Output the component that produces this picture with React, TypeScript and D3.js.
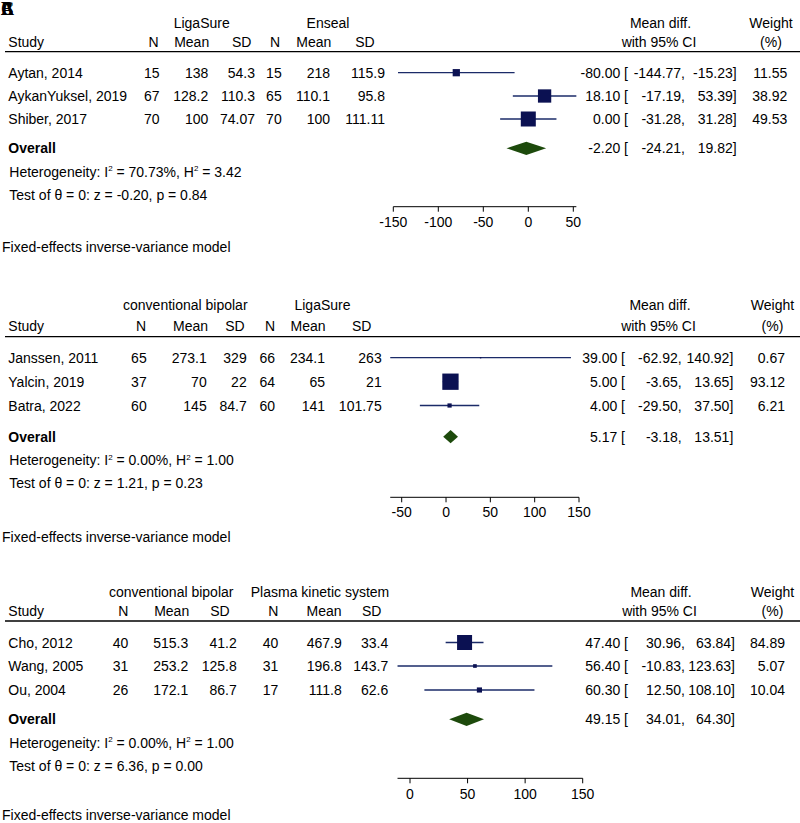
import React from "react";
import * as d3 from "d3";

// ---------- DATA ----------
const p1Studies = ["Aytan, 2014", "AykanYuksel, 2019", "Shiber, 2017"];
const p1N1 = [15, 67, 70];
const p1Mean1 = [138, 128.2, 100];
const p1SD1 = [54.3, 110.3, 74.07];
const p1N2 = [15, 65, 70];
const p1Mean2 = [218, 110.1, 100];
const p1SD2 = [115.9, 95.8, 111.11];
const p1Est = [-80.0, 18.1, 0.0];
const p1Lo = [-144.77, -17.19, -31.28];
const p1Hi = [-15.23, 53.39, 31.28];
const p1Weight = [11.55, 38.92, 49.53];
const p1Overall = [-2.2, -24.21, 19.82];
const p1Groups = ["LigaSure", "Enseal"];
const p1Het = { i2: 70.73, h2: 3.42, z: -0.2, p: 0.84 };
const p1Ticks = [-150, -100, -50, 0, 50];

const p2Studies = ["Janssen, 2011", "Yalcin, 2019", "Batra, 2022"];
const p2N1 = [65, 37, 60];
const p2Mean1 = [273.1, 70, 145];
const p2SD1 = [329, 22, 84.7];
const p2N2 = [66, 64, 60];
const p2Mean2 = [234.1, 65, 141];
const p2SD2 = [263, 21, 101.75];
const p2Est = [39.0, 5.0, 4.0];
const p2Lo = [-62.92, -3.65, -29.5];
const p2Hi = [140.92, 13.65, 37.5];
const p2Weight = [0.67, 93.12, 6.21];
const p2Overall = [5.17, -3.18, 13.51];
const p2Groups = ["conventional bipolar", "LigaSure"];
const p2Het = { i2: 0.0, h2: 1.0, z: 1.21, p: 0.23 };
const p2Ticks = [-50, 0, 50, 100, 150];

const p3Studies = ["Cho, 2012", "Wang, 2005", "Ou, 2004"];
const p3N1 = [40, 31, 26];
const p3Mean1 = [515.3, 253.2, 172.1];
const p3SD1 = [41.2, 125.8, 86.7];
const p3N2 = [40, 31, 17];
const p3Mean2 = [467.9, 196.8, 111.8];
const p3SD2 = [33.4, 143.7, 62.6];
const p3Est = [47.4, 56.4, 60.3];
const p3Lo = [30.96, -10.83, 12.5];
const p3Hi = [63.84, 123.63, 108.1];
const p3Weight = [84.89, 5.07, 10.04];
const p3Overall = [49.15, 34.01, 64.3];
const p3Groups = ["conventional bipolar", "Plasma kinetic system"];
const p3Het = { i2: 0.0, h2: 1.0, z: 6.36, p: 0.0 };
const p3Ticks = [0, 50, 100, 150];

const colHeaders = ["N", "Mean", "SD", "N", "Mean", "SD"];
const panelLetters = ["A", "B", "C"];

// ---------- LAYOUT ----------
const FONT = "'Liberation Sans', Arial, sans-serif";
const FS = 14;
const SQ_COLOR = "#0b1152";
const CI_COLOR = "#1b2b68";
const DIA_COLOR = "#1d4a0c";

const layouts = [
  {
    lineY: 51.7, groupY: 22.7, headY: 41.7, rows: [72.7, 96, 119], overallY: 148.3,
    hetY: 171.7, testY: 195, axisY: 206.7, tickY: 222, fixedY: 246.7,
    colRight: [159.5, 208.3, 255, 281.7, 330, 385],
    colHead: [153.5, 191.7, 241.7, 275, 313.8, 365],
    groupX: [201.7, 328],
    estRight: 628, loRight: 685, hiRight: 736.7, wRight: 787.3, mdX: 660.5, wX: 771,
    xDomain: [-150, 50], xRange: [393.3, 573.3], maxSide: 15,
  },
  {
    lineY: 336.7, groupY: 305, headY: 326, rows: [357.7, 381.7, 405.5], overallY: 436.7,
    hetY: 460, testY: 483.3, axisY: 497.3, tickY: 512, fixedY: 536.7,
    colRight: [146.7, 206.7, 246.7, 275, 325, 381.7],
    colHead: [141, 190.5, 235, 270, 308, 361.7],
    groupX: [185.3, 322.5],
    estRight: 625, loRight: 681.7, hiRight: 733.3, wRight: 785, mdX: 660, wX: 772.5,
    xDomain: [-50, 150], xRange: [401.7, 579], maxSide: 16.3,
  },
  {
    lineY: 621, groupY: 591.7, headY: 611, rows: [642.5, 666, 690], overallY: 719.3,
    hetY: 742.7, testY: 766, axisY: 778.3, tickY: 794, fixedY: 814.5,
    colRight: [128.3, 188.3, 236.7, 278.3, 341.7, 388.3],
    colHead: [123.3, 171.7, 220, 273.3, 324, 371.7],
    groupX: [171.2, 320],
    estRight: 628, loRight: 685, hiRight: 735, wRight: 785, mdX: 661, wX: 772.5,
    xDomain: [0, 150], xRange: [410, 582.7], maxSide: 15,
  },
];

const panels = [
  { studies: p1Studies, cols: [p1N1, p1Mean1, p1SD1, p1N2, p1Mean2, p1SD2], est: p1Est, lo: p1Lo, hi: p1Hi, w: p1Weight, overall: p1Overall, groups: p1Groups, het: p1Het, ticks: p1Ticks },
  { studies: p2Studies, cols: [p2N1, p2Mean1, p2SD1, p2N2, p2Mean2, p2SD2], est: p2Est, lo: p2Lo, hi: p2Hi, w: p2Weight, overall: p2Overall, groups: p2Groups, het: p2Het, ticks: p2Ticks },
  { studies: p3Studies, cols: [p3N1, p3Mean1, p3SD1, p3N2, p3Mean2, p3SD2], est: p3Est, lo: p3Lo, hi: p3Hi, w: p3Weight, overall: p3Overall, groups: p3Groups, het: p3Het, ticks: p3Ticks },
];

const f2 = (v: number) => v.toFixed(2);
const BL = 5; // baseline offset from visual center

function Panel({ d, L }: { d: any; L: any }) {
  const x = d3.scaleLinear().domain(L.xDomain).range(L.xRange);
  const size = d3.scaleSqrt().domain([0, d3.max(d.w as number[]) as number]).range([0, L.maxSide]);
  const axMin = Math.min(L.xDomain[0], d3.min(d.lo as number[]) as number);
  const axMax = Math.max(L.xDomain[1], d3.max(d.hi as number[]) as number);
  const [oe, ol, oh] = d.overall;
  const dh = 6.6;
  const ciText = (e: number, lo: number, hi: number, y: number, k: string) => (
    <g key={k}>
      <text x={L.estRight} y={y + BL} textAnchor="end">{f2(e) + " ["}</text>
      <text x={L.loRight} y={y + BL} textAnchor="end">{f2(lo) + ","}</text>
      <text x={L.hiRight} y={y + BL} textAnchor="end">{f2(hi) + "]"}</text>
    </g>
  );
  return (
    <g>
      {d.groups.map((g: string, i: number) => (
        <text key={"g" + i} x={L.groupX[i]} y={L.groupY + BL} textAnchor="middle">{g}</text>
      ))}
      <text x={L.mdX} y={L.groupY + BL} textAnchor="middle">Mean diff.</text>
      <text x={L.wX} y={L.groupY + BL} textAnchor="middle">Weight</text>
      <text x={8.3} y={L.headY + BL}>Study</text>
      {colHeaders.map((h, i) => (
        <text key={"h" + i} x={L.colHead[i]} y={L.headY + BL} textAnchor="middle">{h}</text>
      ))}
      <text x={L.mdX - 1.5} y={L.headY + BL} textAnchor="middle">with 95% CI</text>
      <text x={L.wX} y={L.headY + BL} textAnchor="middle">(%)</text>
      <line x1={5} x2={800} y1={L.lineY} y2={L.lineY} stroke="#000" strokeWidth={1.3} />
      {d.studies.map((s: string, i: number) => {
        const y = L.rows[i];
        const sz = size(d.w[i]);
        return (
          <g key={"r" + i}>
            <text x={8.3} y={y + BL}>{s}</text>
            {d.cols.map((c: number[], j: number) => (
              <text key={"c" + j} x={L.colRight[j]} y={y + BL} textAnchor="end">{String(c[i])}</text>
            ))}
            <line x1={x(d.lo[i])} x2={x(d.hi[i])} y1={y} y2={y} stroke={CI_COLOR} strokeWidth={1.3} />
            <rect x={x(d.est[i]) - sz / 2} y={y - sz / 2} width={sz} height={sz} fill={SQ_COLOR} />
            {ciText(d.est[i], d.lo[i], d.hi[i], y, "ci" + i)}
            <text x={L.wRight} y={y + BL} textAnchor="end">{f2(d.w[i])}</text>
          </g>
        );
      })}
      <text x={8.3} y={L.overallY + BL} fontWeight="bold">Overall</text>
      <path
        d={`M${x(ol)},${L.overallY} L${x(oe)},${L.overallY - dh} L${x(oh)},${L.overallY} L${x(oe)},${L.overallY + dh} Z`}
        fill={DIA_COLOR}
      />
      {ciText(oe, ol, oh, L.overallY, "ov")}
      <text x={9.3} y={L.hetY + BL}>
        {"Heterogeneity: I"}
        <tspan dy={-5.5} fontSize={8}>2</tspan>
        <tspan dy={5.5}>{" = " + f2(d.het.i2) + "%, H"}</tspan>
        <tspan dy={-5.5} fontSize={8}>2</tspan>
        <tspan dy={5.5}>{" = " + f2(d.het.h2)}</tspan>
      </text>
      <text x={9.3} y={L.testY + BL}>{"Test of \u03B8 = 0: z = " + f2(d.het.z) + ", p = " + f2(d.het.p)}</text>
      <line x1={x(axMin)} x2={x(axMax)} y1={L.axisY} y2={L.axisY} stroke="#000" strokeWidth={1} />
      {d.ticks.map((t: number) => (
        <g key={"t" + t}>
          <line x1={x(t)} x2={x(t)} y1={L.axisY} y2={L.axisY + 5} stroke="#000" strokeWidth={1} />
          <text x={x(t)} y={L.tickY + BL} textAnchor="middle">{String(t)}</text>
        </g>
      ))}
      <text x={2} y={L.fixedY + BL}>Fixed-effects inverse-variance model</text>
    </g>
  );
}

export default function App() {
  return (
    <svg
      width={800}
      height={823}
      style={{ position: "absolute", left: 0, top: 0, background: "#fff" }}
      fontFamily={FONT}
      fontSize={FS}
      fill="#000"
    >
      <rect x={0} y={0} width={800} height={823} fill="#fff" />
      <g fontFamily="'Liberation Serif', 'Times New Roman', serif" fontWeight="bold" fontSize={18}>
        {panelLetters.map((l) => (
          <text key={l} x={1} y={15}>{l}</text>
        ))}
      </g>
      {panels.map((d, i) => (
        <Panel key={i} d={d} L={layouts[i]} />
      ))}
    </svg>
  );
}
